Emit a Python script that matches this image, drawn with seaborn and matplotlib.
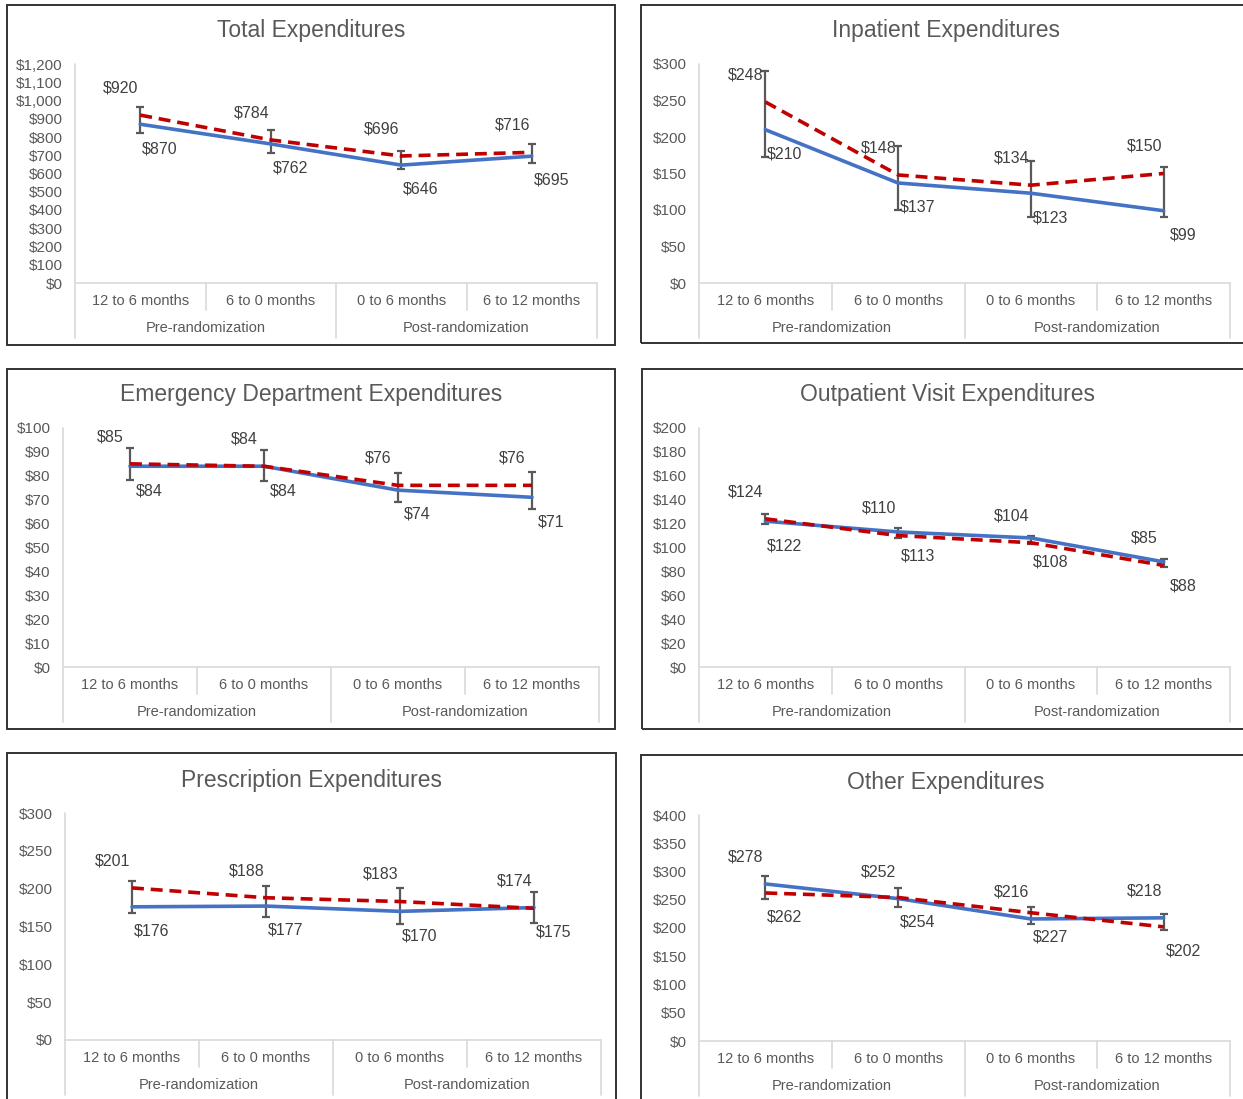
import numpy as np
import pandas as pd
import matplotlib
matplotlib.use("Agg")
import matplotlib.pyplot as plt
import matplotlib.ticker as mticker
from matplotlib.patches import Rectangle
import seaborn as sns

# ---------------- data ----------------
categories = ["12 to 6 months", "6 to 0 months", "0 to 6 months", "6 to 12 months"]
groups = ["Pre-randomization", "Post-randomization"]

titles = ["Total Expenditures", "Inpatient Expenditures",
          "Emergency Department Expenditures", "Outpatient Visit Expenditures",
          "Prescription Expenditures", "Other Expenditures"]

total_blue = [870, 762, 646, 695]
total_red = [920, 784, 696, 716]
total_err_low = [823, 713, 623, 658]
total_err_high = [965, 837, 722, 762]

inpatient_blue = [210, 137, 123, 99]
inpatient_red = [248, 148, 134, 150]
inpatient_err_low = [172, 100, 91, 91]
inpatient_err_high = [290, 187, 167, 159]

ed_blue = [84, 84, 74, 71]
ed_red = [85, 84, 76, 76]
ed_err_low = [78.3, 77.9, 69.0, 66.0]
ed_err_high = [91.6, 90.6, 81.0, 81.7]

outpatient_blue = [122, 113, 108, 88]
outpatient_red = [124, 110, 104, 85]
outpatient_err_low = [119.4, 107.7, 102.9, 83.4]
outpatient_err_high = [127.8, 116.1, 109.9, 90.3]

rx_blue = [176, 177, 170, 175]
rx_red = [201, 188, 183, 174]
rx_err_low = [168.5, 163, 153.5, 155]
rx_err_high = [210, 203, 201, 195]

other_blue = [278, 252, 216, 218]
other_red = [262, 254, 227, 202]
other_err_low = [251, 238, 207, 196]
other_err_high = [292, 271, 238, 225]

y_max = [1200, 300, 100, 200, 300, 400]
y_step = [100, 50, 10, 20, 50, 50]
top_label_series = ["red", "red", "red", "red", "red", "blue"]

panels = [
    (total_blue, total_red, total_err_low, total_err_high),
    (inpatient_blue, inpatient_red, inpatient_err_low, inpatient_err_high),
    (ed_blue, ed_red, ed_err_low, ed_err_high),
    (outpatient_blue, outpatient_red, outpatient_err_low, outpatient_err_high),
    (rx_blue, rx_red, rx_err_low, rx_err_high),
    (other_blue, other_red, other_err_low, other_err_high),
]

# ---------------- layout (pixels) ----------------
W, H, DPI = 1243, 1099, 100
boxes = [(7, 5, 615, 345), (641, 5, 1251, 343),
         (7, 369, 615, 729), (642, 369, 1252, 729),
         (7, 753, 616, 1110), (641, 755, 1251, 1110)]
plot_areas = [(75, 64, 597, 283), (699, 64, 1230, 283),
              (63, 428, 599, 667), (699, 428, 1230, 667),
              (65, 813, 601, 1040), (699, 815, 1230, 1041)]
title_y = [31, 31, 395, 395, 780, 782]

sns.set_style("white")
plt.rcParams["font.family"] = ["Liberation Sans", "DejaVu Sans"]

BLUE = "#4472C4"
RED = "#C00000"
GRAY_TXT = "#595959"
DARK_TXT = "#404040"
ERR = "#595959"
AXIS_LINE = "#D9D9D9"

fig = plt.figure(figsize=(W / DPI, H / DPI), dpi=DPI)

pos = np.arange(len(categories))

for k in range(6):
    blue, red, lo, hi = panels[k]
    l, t, r, b = plot_areas[k]
    ax = fig.add_axes([l / W, 1 - b / H, (r - l) / W, (b - t) / H])
    h_px = b - t

    lo_a = np.array(lo, dtype=float)
    hi_a = np.array(hi, dtype=float)
    mid = (lo_a + hi_a) / 2
    ax.errorbar(pos, mid, yerr=[mid - lo_a, hi_a - mid], fmt="none",
                ecolor=ERR, elinewidth=1.6, capsize=2.6, capthick=1.6, zorder=2)

    df = pd.DataFrame({
        "pos": np.concatenate([pos, pos]),
        "period": categories * 2,
        "value": list(blue) + list(red),
        "series": ["blue"] * 4 + ["red"] * 4,
    })
    sns.lineplot(data=df, x="pos", y="value", hue="series", style="series",
                 hue_order=["blue", "red"], style_order=["blue", "red"],
                 palette={"blue": BLUE, "red": RED},
                 dashes={"blue": "", "red": (3.3, 1.9)},
                 linewidth=2.6, legend=False, ax=ax, sort=False, zorder=3)

    # value labels
    top_vals, bot_vals = (red, blue) if top_label_series[k] == "red" else (blue, red)
    for i in range(4):
        ax.annotate(f"${top_vals[i]:,.0f}", (pos[i], top_vals[i]), xytext=(-14, 19.5),
                    textcoords="offset points", ha="center", va="center",
                    fontsize=11.5, color=DARK_TXT, zorder=5)
        ax.annotate(f"${bot_vals[i]:,.0f}", (pos[i], bot_vals[i]), xytext=(14, -17.5),
                    textcoords="offset points", ha="center", va="center",
                    fontsize=11.5, color=DARK_TXT, zorder=5)

    ax.set_xlim(-0.5, len(categories) - 0.5)
    ax.set_ylim(0, y_max[k])
    ax.set_yticks(np.arange(0, y_max[k] + y_step[k] / 2, y_step[k]))
    ax.yaxis.set_major_formatter(mticker.FuncFormatter(lambda v, p: f"${v:,.0f}"))
    ax.tick_params(axis="y", length=0, pad=9, labelcolor=GRAY_TXT, labelsize=11)
    ax.set_xticks([])
    ax.set_xlabel("")
    ax.set_ylabel("")
    for s in ax.spines.values():
        s.set_visible(False)
    ax.patch.set_alpha(0)

    # multi-level category axis
    trans = ax.get_xaxis_transform()
    f = lambda px: -px / h_px
    lkw = dict(color=AXIS_LINE, lw=1.2, clip_on=False, transform=trans, zorder=1)
    ax.plot([-0.5, 3.5], [0, 0], **lkw)
    ax.plot([-0.5, -0.5], [1, f(55)], **lkw)
    for xb in [0.5, 2.5]:
        ax.plot([xb, xb], [0, f(27)], **lkw)
    for xb in [1.5, 3.5]:
        ax.plot([xb, xb], [0, f(55)], **lkw)
    for i, c in enumerate(categories):
        ax.text(pos[i], f(18), c, transform=trans, ha="center", va="center",
                fontsize=10.5, color=GRAY_TXT)
    for j, g in enumerate(groups):
        ax.text(0.5 + 2 * j, f(45), g, transform=trans, ha="center", va="center",
                fontsize=10.5, color=GRAY_TXT)

    # chart border and title
    bl, bt, br, bb = boxes[k]
    fig.patches.append(Rectangle((bl / W, 1 - bb / H), (br - bl) / W, (bb - bt) / H,
                                 transform=fig.transFigure, fill=False,
                                 edgecolor="#333333", lw=1.4, zorder=0))
    fig.text((bl + br) / 2 / W, 1 - title_y[k] / H, titles[k], ha="center", va="center",
             fontsize=16.5, color=GRAY_TXT)

fig.savefig("out.png", dpi=DPI)
